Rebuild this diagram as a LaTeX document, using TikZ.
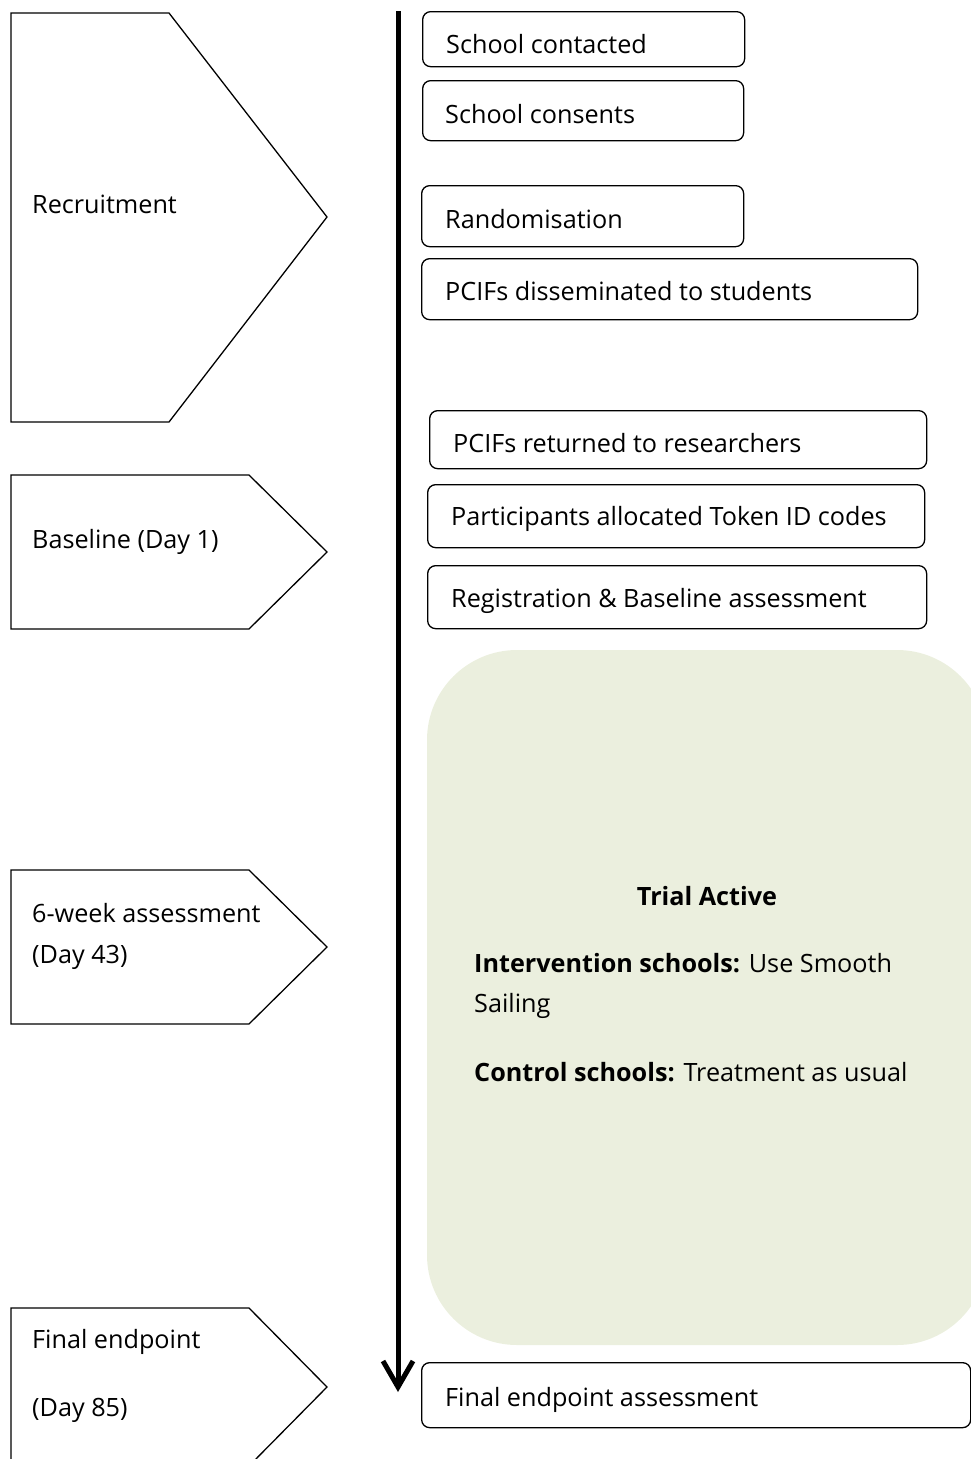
\documentclass[tikz,border=0pt]{standalone}
\usepackage{fontspec}
\setmainfont{Open Sans}
\usetikzlibrary{arrows.meta}
\definecolor{trialgreen}{RGB}{235,239,222}
\tikzset{
  chev/.style={draw=black, line width=1.3pt, line join=miter},
  stepbox/.style={draw=black, line width=1.3pt, rounded corners=8pt, anchor=north west, inner sep=0pt},
  lbl/.style={anchor=base west, inner sep=0pt, font=\fontsize{25.2}{30}\selectfont},
  timeline/.style={line width=5pt, -{Straight Barb[length=26pt, width=30pt, line width=5pt]}}
}
\begin{document}
\begin{tikzpicture}[x=1pt, y=-1pt]
\useasboundingbox (0,0) rectangle (971,1459);
% chevrons
\draw[chev] (11,13) -- (169,13) -- (327,217) -- (169,422) -- (11,422) -- cycle;
\node[lbl] (recr) at (32,213) {Recruitment};
\draw[chev] (11,475) -- (249,475) -- (327,552) -- (249,629) -- (11,629) -- cycle;
\node[lbl] (base) at (32,548) {Baseline (Day 1)};
\draw[chev] (11,870) -- (249,870) -- (327,947) -- (249,1024) -- (11,1024) -- cycle;
\node[lbl] (six) at (32,922) {6-week assessment};
\node[lbl] (six2) at (32,963) {(Day 43)};
\draw[chev] (11,1475) -- (11,1308) -- (249,1308) -- (327,1387) -- (249,1466);
\node[lbl] (fin) at (32,1348) {Final endpoint};
\node[lbl] (fin2) at (32,1416) {(Day 85)};
% timeline
\coordinate (tstart) at (398,11);
\coordinate (tend) at (398,1392);
\draw[timeline] (tstart) -- (tend);
% green trial box
\fill[trialgreen, rounded corners=90pt] (427,650) rectangle (987,1345);
\node[lbl, anchor=base] (trial) at (707,905) {\textbf{Trial Active}};
\node[lbl] (int1) at (474,972) {\textbf{Intervention schools:} Use Smooth};
\node[lbl] (int2) at (474,1012) {Sailing};
\node[lbl] (ctrl) at (474,1081) {\textbf{Control schools:} Treatment as usual};
% step boxes
\node[stepbox, minimum width=322pt, minimum height=55pt] (b1) at (422,11) {};
\node[lbl] (t1) at (446,53) {School contacted};
\node[stepbox, minimum width=321pt, minimum height=60pt] (b2) at (422,80) {};
\node[lbl] (t2) at (445,123) {School consents};
\node[stepbox, minimum width=322pt, minimum height=61pt] (b3) at (421,185) {};
\node[lbl] (t3) at (445,228) {Randomisation};
\node[stepbox, minimum width=496pt, minimum height=61pt] (b4) at (421,258) {};
\node[lbl] (t4) at (445,300) {PCIFs disseminated to students};
\node[stepbox, minimum width=497pt, minimum height=58pt] (b5) at (429,410) {};
\node[lbl] (t5) at (453,452) {PCIFs returned to researchers};
\node[stepbox, minimum width=497pt, minimum height=63pt] (b6) at (427,484) {};
\node[lbl] (t6) at (451,525) {Participants allocated Token ID codes};
\node[stepbox, minimum width=499pt, minimum height=63pt] (b7) at (427,565) {};
\node[lbl] (t7) at (451,607) {Registration \& Baseline assessment};
\node[stepbox, minimum width=549pt, minimum height=65pt] (b8) at (421,1362) {};
\node[lbl] (t8) at (445,1406) {Final endpoint assessment};
\end{tikzpicture}
\end{document}
